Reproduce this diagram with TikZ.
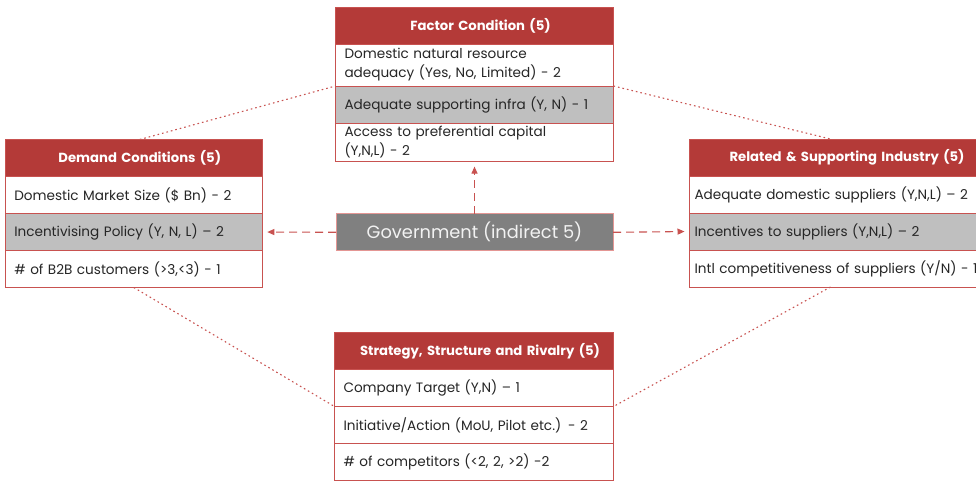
\documentclass[tikz,border=0pt]{standalone}
\usepackage{fontspec}
\setmainfont{Poppins}
\usepackage{tikz}
\usetikzlibrary{arrows.meta}
\usetikzlibrary{positioning}
\definecolor{headred}{RGB}{180,58,56}
\definecolor{linered}{RGB}{200,82,80}
\definecolor{rowgray}{RGB}{191,191,191}
\definecolor{govgray}{RGB}{128,128,128}
\definecolor{govline}{RGB}{228,150,148}
\tikzset{boxnode/.style={draw=linered, line width=0.9pt, inner xsep=9pt, outer sep=0pt}}

\begin{document}
\begin{tikzpicture}[x=1pt, y=-1pt,
      node distance=0pt,
      >={Triangle[length=7pt,width=6pt]},
      head/.style={boxnode, fill=headred, text=white,
        font=\fontsize{13.2}{15}\selectfont\bfseries,
        minimum height=37pt, align=center,
        execute at begin node=\hspace*{12pt}},
      item/.style={boxnode, fill=white, text=black!85,
        font=\fontsize{13.6}{19}\selectfont,
        minimum height=37pt, align=left},
      shaded/.style={item, fill=rowgray},
      factor/.style={text width=260pt},
      demand/.style={text width=239pt},
      related/.style={text width=302pt},
      relrow/.style={inner xsep=5pt, text width=310pt},
      strategy/.style={text width=261pt},
      link/.style={linered, line width=1.1pt, dash pattern=on 1.6pt off 3pt},
      push/.style={->, linered, line width=1.1pt,
        dash pattern=on 8pt off 5pt, shorten >=5pt}]

    \useasboundingbox (0,0) rectangle (976,481);
    \clip (0,0) rectangle (976,481);

    \node[head, factor]
      (FactorHead) at (474.5,25.5) {Factor Condition (5)};
    \node[item, factor, minimum height=42pt]
      (FactorA) [below=of FactorHead] {Domestic natural resource\\adequacy (Yes, No, Limited) - 2};
    \node[shaded, factor]
      (FactorB) [below=of FactorA] {Adequate supporting infra (Y, N) - 1};
    \node[item, factor]
      (FactorC) [below=of FactorB] {Access to preferential capital\\(Y,N,L) - 2};

    \node[head, demand]
      (DemandHead) at (133.8,158) {Demand Conditions (5)};
    \node[item, demand]
      (DemandA) [below=of DemandHead] {Domestic Market Size (\$ Bn) - 2};
    \node[shaded, demand]
      (DemandB) [below=of DemandA] {Incentivising Policy (Y, N, L) -- 2};
    \node[item, demand]
      (DemandC) [below=of DemandB] {\# of B2B customers (>3,<3) - 1};

    \node[head, related, execute at begin node=\hspace*{-17pt}]
      (RelatedHead) at (849.5,157.5) {Related \& Supporting Industry (5)};
    \node[item, relrow]
      (RelatedA) [below=of RelatedHead] {Adequate domestic suppliers (Y,N,L) -- 2};
    \node[shaded, relrow]
      (RelatedB) [below=of RelatedA] {Incentives to suppliers (Y,N,L) -- 2};
    \node[item, relrow]
      (RelatedC) [below=of RelatedB] {Intl competitiveness of suppliers (Y/N) - 1};

    \node[head, strategy]
      (StrategyHead) at (474,351) {Strategy, Structure and Rivalry (5)};
    \node[item, strategy]
      (StrategyA) [below=of StrategyHead] {Company Target (Y,N) -- 1};
    \node[item, strategy]
      (StrategyB) [below=of StrategyA] {Initiative/Action (MoU, Pilot etc.) - 2};
    \node[item, strategy]
      (StrategyC) [below=of StrategyB] {\# of competitors (<2, 2, >2) -2};

    \node[boxnode, draw=govline, fill=govgray, text=white!95!black,
      font=\fontsize{17.8}{20}\selectfont, minimum width=277pt, minimum height=37pt]
      (Government) at (474.5,232.3) {Government (indirect 5)};

    \draw[link] ([xshift=6pt]DemandHead.north) -- (FactorA.south west);
    \draw[link] (FactorA.south east) -- ([xshift=-19pt]RelatedHead.north);
    \draw[link] (DemandC.south) -- (StrategyA.south west);
    \draw[link] ([xshift=-19pt]RelatedC.south) -- (StrategyA.south east);

    \draw[push] (Government.west) -- (DemandB.east);
    \draw[push] (Government.east) -- (RelatedB.west);
    \draw[push] (Government.north) -- (FactorC.south);

  \end{tikzpicture}
\end{document}
